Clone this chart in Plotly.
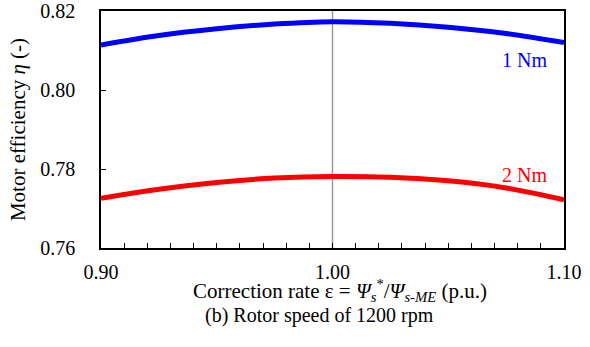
import plotly.graph_objects as go

x_vals = [0.90, 0.925, 0.95, 0.975, 1.00, 1.025, 1.05, 1.075, 1.10]
eff_1nm = [0.8114, 0.8138, 0.8155, 0.8167, 0.8173, 0.8169, 0.8159, 0.8143, 0.8120]
eff_2nm = [0.7726, 0.7749, 0.7766, 0.7777, 0.7781, 0.7779, 0.7770, 0.7752, 0.7722]
x_ticks = [0.90, 1.00, 1.10]
y_ticks = [0.76, 0.78, 0.80, 0.82]

FONT = "Liberation Serif, Times New Roman, serif"

fig = go.Figure()
fig.add_trace(go.Scatter(x=x_vals, y=eff_1nm, mode="lines", line=dict(color="#0000FF", width=5, shape="spline"), showlegend=False))
fig.add_trace(go.Scatter(x=x_vals, y=eff_2nm, mode="lines", line=dict(color="#FF0000", width=5, shape="spline"), showlegend=False))

fig.add_shape(type="line", x0=1.0, x1=1.0, y0=0, y1=1, xref="x", yref="paper", line=dict(color="#999999", width=1.5), layer="below")

fig.add_annotation(x=1.083, y=0.8077, text="1 Nm", showarrow=False, font=dict(family=FONT, size=20, color="#0000FF"), xref="x", yref="y")
fig.add_annotation(x=1.083, y=0.7786, text="2 Nm", showarrow=False, font=dict(family=FONT, size=20, color="#FF0000"), xref="x", yref="y")
fig.add_annotation(x=0.516, y=-0.18, xref="paper", yref="paper", yanchor="middle", xanchor="center",
                   text="Correction rate ε = <i>Ψ</i><sub><i>s</i></sub><sup>*</sup>/<i>Ψ</i><sub><i>s-ME</i></sub> (p.u.)",
                   showarrow=False, font=dict(family=FONT, size=21, color="black"))
fig.add_annotation(x=0.473, y=-0.284, xref="paper", yref="paper", yanchor="middle", xanchor="center",
                   text="(b) Rotor speed of 1200 rpm", showarrow=False, font=dict(family=FONT, size=20, color="black"))

fig.update_layout(
    width=590, height=347,
    margin=dict(l=101, r=26, t=11, b=99),
    plot_bgcolor="white", paper_bgcolor="white",
    font=dict(family=FONT, size=20, color="black"),
    xaxis=dict(
        range=[0.90, 1.10], tickvals=x_ticks, ticktext=["0.90", "1.00", "1.10"],
        ticks="inside", ticklen=5, tickcolor="black", showgrid=False, zeroline=False,
        showline=True, linecolor="black", linewidth=1.5, mirror=True, automargin=False,
        minor=dict(dtick=0.01, ticks="inside", ticklen=5, tickcolor="black", showgrid=False),
        tickfont=dict(family=FONT, size=20), ticklabelstandoff=5, ticklabeloverflow="allow",
    ),
    yaxis=dict(
        range=[0.76, 0.82], tickvals=y_ticks, ticktext=["0.76", "0.78", "0.80", "0.82"],
        ticks="inside", ticklen=5, tickcolor="black", showgrid=False, zeroline=False,
        showline=True, linecolor="black", linewidth=1.5, mirror=True, automargin=False,
        tickfont=dict(family=FONT, size=20), ticklabelstandoff=20, ticklabeloverflow="allow",
        title=dict(text="Motor efficiency <i>η</i> (-)", font=dict(family=FONT, size=21), standoff=9),
    ),
)

fig.write_html("out.html", config={"displayModeBar": False}, post_script="document.body.style.margin='0';")
